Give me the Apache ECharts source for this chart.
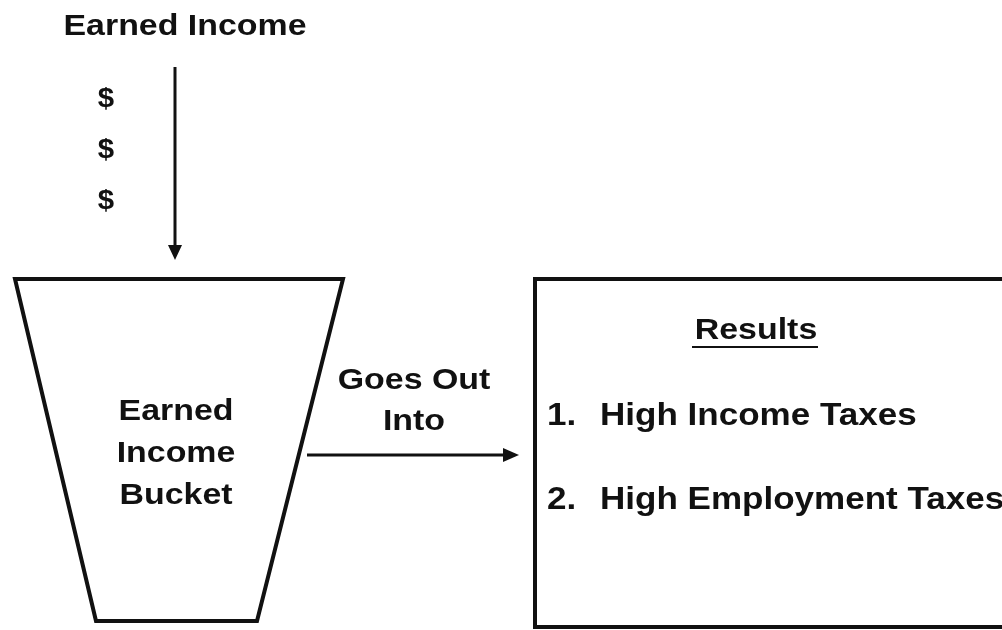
<!DOCTYPE html>
<html>
<head>
<meta charset="utf-8">
<style>
  html, body { margin: 0; padding: 0; background: #fff; }
  #chart { width: 1002px; height: 630px; }
</style>
<script src="https://cdn.jsdelivr.net/npm/echarts@6/dist/echarts.min.js"></script>
</head>
<body>
<div id="chart"></div>
<script>
// 图中的文字内容
const sourceLabel = 'Earned Income'
const dollarSigns = ['$', '$', '$']
const bucketLines = ['Earned', 'Income', 'Bucket']
const flowLines = ['Goes Out', 'Into']
const resultsHeading = 'Results'
const resultsItems = ['High Income Taxes', 'High Employment Taxes']

const INK = '#111'

// 原图字体略微横向拉伸，用 scaleX 近似
const txt = (text, x, y, size, align = 'center', sx = 1.13) => ({
  type: 'text',
  x, y,
  scaleX: sx,
  style: {
    text, fill: INK,
    fontFamily: 'Liberation Sans', fontWeight: 'bold', fontSize: size,
    textAlign: align, textVerticalAlign: 'middle'
  }
})

const elements = []

// 顶部标题与向下箭头
elements.push(txt(sourceLabel, 185, 27, 30))
dollarSigns.forEach((s, i) => elements.push(txt(s, 106, 99 + i * 51, 28, 'center', 1.05)))
elements.push({
  type: 'line', shape: { x1: 175, y1: 67, x2: 175, y2: 248 },
  style: { stroke: INK, lineWidth: 3 }
})
elements.push({
  type: 'polygon', shape: { points: [[168, 245], [182, 245], [175, 260]] },
  style: { fill: INK }
})

// 桶（梯形）
elements.push({
  type: 'polygon',
  shape: { points: [[15, 279], [343, 279], [257, 621], [96, 621]] },
  style: { fill: '#fff', stroke: INK, lineWidth: 4, lineJoin: 'miter' }
})
bucketLines.forEach((s, i) => elements.push(txt(s, 176, 412 + i * 42, 30)))

// 流出箭头
flowLines.forEach((s, i) => elements.push(txt(s, 414, 381 + i * 41, 30)))
elements.push({
  type: 'line', shape: { x1: 307, y1: 455, x2: 506, y2: 455 },
  style: { stroke: INK, lineWidth: 3 }
})
elements.push({
  type: 'polygon', shape: { points: [[503, 448], [503, 462], [519, 455]] },
  style: { fill: INK }
})

// 结果框
elements.push({
  type: 'rect', shape: { x: 535, y: 279, width: 500, height: 348 },
  style: { fill: '#fff', stroke: INK, lineWidth: 4 }
})
elements.push(txt(resultsHeading, 756, 331, 30))
elements.push({
  type: 'line', shape: { x1: 692, y1: 347, x2: 818, y2: 347 },
  style: { stroke: INK, lineWidth: 2 }
})
resultsItems.forEach((s, i) => {
  elements.push(txt(`${i + 1}.`, 547, 416 + i * 84, 31, 'left'))
  elements.push(txt(s, 600, 416 + i * 84, 31, 'left'))
})

const chart = echarts.init(document.getElementById('chart'))
chart.setOption({
  backgroundColor: '#fff',
  animation: false,
  graphic: { elements }
})
window.addEventListener('resize', () => chart.resize())
</script>
</body>
</html>
